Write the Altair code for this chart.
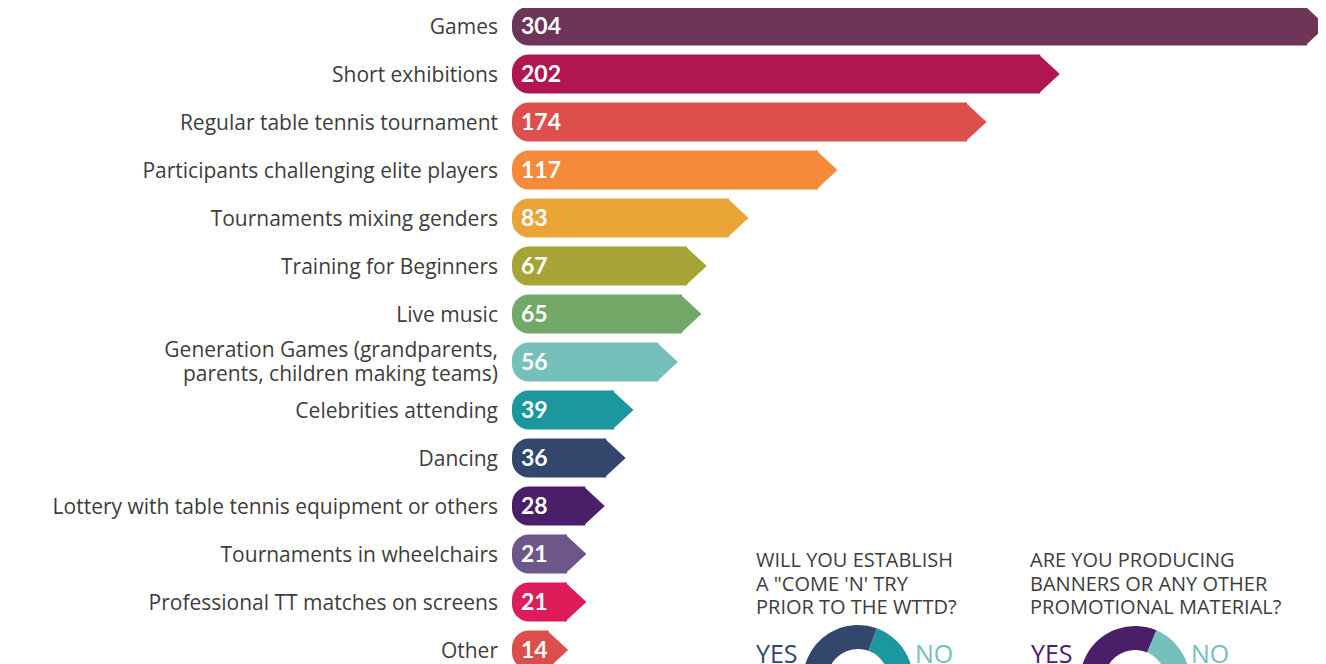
import math
import altair as alt
import pandas as pd

categories = [
    "Games",
    "Short exhibitions",
    "Regular table tennis tournament",
    "Participants challenging elite players",
    "Tournaments mixing genders",
    "Training for Beginners",
    "Live music",
    "Generation Games (grandparents,\nparents, children making teams)",
    "Celebrities attending",
    "Dancing",
    "Lottery with table tennis equipment or others",
    "Tournaments in wheelchairs",
    "Professional TT matches on screens",
    "Other",
]
counts = [304, 202, 174, 117, 83, 67, 65, 56, 39, 36, 28, 21, 21, 14]
bar_colors = [
    "#6f3559", "#b01650", "#dc4f4d", "#f58a3a", "#e9a536", "#a6a437", "#72a868",
    "#76bfbb", "#1b979d", "#33466c", "#4a1e68", "#6d5689", "#dc1d5a", "#db4e4b",
]

donut1_title = 'WILL YOU ESTABLISH\nA "COME \'N\' TRY\nPRIOR TO THE WTTD?'
donut1_answers = ["YES", "NO"]
donut1_shares = [72, 28]
donut1_colors = ["#33466c", "#1b979d"]
donut1_label_colors = ["#33466c", "#76bfbb"]

donut2_title = "ARE YOU PRODUCING\nBANNERS OR ANY OTHER\nPROMOTIONAL MATERIAL?"
donut2_answers = ["YES", "NO"]
donut2_shares = [70, 30]
donut2_colors = ["#4a1e68", "#76bfbb"]
donut2_label_colors = ["#4a1e68", "#76bfbb"]

LABEL_FONT = "Open Sans"
NUM_FONT = "Lato"
TEXT_COLOR = "#3d3d3d"

bars = pd.DataFrame({
    "cat": categories,
    "count": counts,
    "idx": list(range(len(categories))),
    "color": bar_colors,
})

xs = alt.Scale(domain=[0, 304], range=[504, 1299])
ys = alt.Scale(domain=[0, 13], range=[18, 642])

base = alt.Chart(bars).transform_calculate(
    zero="0",
    y0="datum.idx - 0.406",
    y1="datum.idx + 0.406",
    ylab="indexof(datum.cat, '\\n') >= 0 ? datum.idx - 0.27 : datum.idx",
)

rects = base.mark_rect(cornerRadiusTopLeft=17, cornerRadiusBottomLeft=17).encode(
    x=alt.X("zero:Q", scale=xs, axis=None),
    x2="count:Q",
    y=alt.Y("y0:Q", scale=ys, axis=None),
    y2="y1:Q",
    color=alt.Color("color:N", scale=None),
)

tips = base.mark_point(
    shape="M-0.08,-1L1,0L-0.08,1Z", size=1521, filled=True, opacity=1, strokeWidth=0
).encode(
    x=alt.X("count:Q", scale=xs, axis=None),
    y=alt.Y("idx:Q", scale=ys, axis=None),
    color=alt.Color("color:N", scale=None),
)

cat_labels = base.mark_text(
    align="right", baseline="middle", font=LABEL_FONT, fontSize=21, color=TEXT_COLOR,
    lineBreak="\n", lineHeight=24, dy=1.5,
).encode(
    x=alt.value(490),
    y=alt.Y("ylab:Q", scale=ys, axis=None),
    text="cat:N",
)

val_labels = base.mark_text(
    align="left", baseline="middle", font=NUM_FONT, fontSize=23, fontWeight="bold",
    color="white", dy=1,
).encode(
    x=alt.value(513),
    y=alt.Y("idx:Q", scale=ys, axis=None),
    text="count:Q",
)


def donut(title, answers, shares, colors, label_colors, cx, cy, start_deg, tx, yes_x, no_x):
    df = pd.DataFrame({
        "answer": answers,
        "share": shares,
        "order": list(range(len(answers))),
        "color": colors,
    })
    a0 = math.radians(start_deg)
    arc = alt.Chart(df).mark_arc(innerRadius=31, outerRadius=55).encode(
        theta=alt.Theta("share:Q", stack=True,
                        scale=alt.Scale(range=[a0, a0 + 2 * math.pi])),
        order=alt.Order("order:Q"),
        color=alt.Color("color:N", scale=None),
        x=alt.value(cx),
        y=alt.value(cy),
    )
    tdf = pd.DataFrame({"t": [title]})
    ttl = alt.Chart(tdf).mark_text(
        align="left", baseline="alphabetic", font=LABEL_FONT, fontSize=20,
        color=TEXT_COLOR, lineBreak="\n", lineHeight=23.5,
    ).encode(x=alt.value(tx), y=alt.value(559), text="t:N")
    yes = alt.Chart(pd.DataFrame({"t": [answers[0]]})).mark_text(
        align="left", baseline="alphabetic", font=LABEL_FONT, fontSize=25,
        color=label_colors[0],
    ).encode(x=alt.value(yes_x), y=alt.value(655), text="t:N")
    no = alt.Chart(pd.DataFrame({"t": [answers[1]]})).mark_text(
        align="left", baseline="alphabetic", font=LABEL_FONT, fontSize=25,
        color=label_colors[1],
    ).encode(x=alt.value(no_x), y=alt.value(655), text="t:N")
    return [arc, ttl, yes, no]


d1 = donut(donut1_title, donut1_answers, donut1_shares, donut1_colors,
           donut1_label_colors, 850, 672, 20 + 360 * donut1_shares[1] / 100,
           748, 748, 907)
d2 = donut(donut2_title, donut2_answers, donut2_shares, donut2_colors,
           donut2_label_colors, 1127, 673, 23 + 360 * donut2_shares[1] / 100,
           1022, 1023, 1183)

chart = alt.layer(rects, tips, cat_labels, val_labels, *d1, *d2).resolve_scale(
    theta="independent"
).properties(
    width=1310, height=680, padding=0, autosize=alt.AutoSizeParams(type="none"),
).configure_view(stroke=None)

chart.save("out.html", embed_options={"renderer": "svg", "actions": False})
